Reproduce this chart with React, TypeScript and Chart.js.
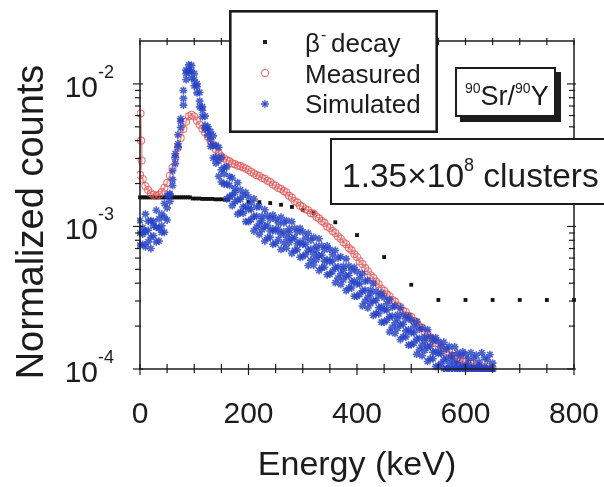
import React, { useEffect, useRef } from "react";
import { Chart, registerables } from "chart.js";

Chart.register(...registerables);

// All series values are in units of 1e-3 normalized counts
const UNIT = 1e-3;

const energyBins = [
  0, 5, 10, 15, 20, 25, 30, 35, 40, 45,
  50, 55, 60, 65, 70, 75, 80, 85, 90, 95,
  100, 105, 110, 115, 120, 125, 130, 135, 140, 145,
  150, 155, 160, 165, 170, 175, 180, 185, 190, 195,
  200, 205, 210, 215, 220, 225, 230, 235, 240, 245,
  250, 255, 260, 265, 270, 275, 280, 285, 290, 295,
  300, 305, 310, 315, 320, 325, 330, 335, 340, 345,
  350, 355, 360, 365, 370, 375, 380, 385, 390, 395,
  400, 405, 410, 415, 420, 425, 430, 435, 440, 445,
  450, 455, 460, 465, 470, 475, 480, 485, 490, 495,
  500, 505, 510, 515, 520, 525, 530, 535, 540, 545,
  550, 555, 560, 565, 570, 575, 580, 585, 590, 595,
  600, 605, 610, 615, 620, 625, 630, 635, 640, 645,
  650,
];

const measured = [
  2.3, 2.15, 1.92, 1.8, 1.71, 1.67, 1.64, 1.67, 1.74, 1.87,
  2.02, 2.27, 2.58, 3.02, 3.56, 4.18, 4.82, 5.43, 5.92, 6.08,
  5.91, 5.52, 5.17, 4.84, 4.56, 4.26, 4.0, 3.71, 3.46, 3.26,
  3.1, 3.01, 2.91, 2.86, 2.77, 2.73, 2.67, 2.65, 2.59, 2.55,
  2.49, 2.41, 2.35, 2.29, 2.26, 2.19, 2.16, 2.09, 2.05, 1.97,
  1.93, 1.86, 1.83, 1.77, 1.73, 1.64, 1.59, 1.51, 1.47, 1.4,
  1.37, 1.32, 1.3, 1.24, 1.23, 1.17, 1.14, 1.09, 1.06, 1.0,
  0.975, 0.93, 0.9, 0.85, 0.82, 0.775, 0.75, 0.705, 0.68, 0.64,
  0.61, 0.57, 0.545, 0.51, 0.485, 0.455, 0.437, 0.41, 0.393, 0.366,
  0.354, 0.334, 0.324, 0.305, 0.297, 0.279, 0.272, 0.256, 0.251, 0.236,
  0.232, 0.218, 0.214, 0.199, 0.195, 0.181, 0.177, 0.164, 0.161, 0.152,
  0.151, 0.142, 0.141, 0.132, 0.131, 0.124, 0.124, 0.118, 0.118, 0.113,
  0.113, 0.108, 0.109, 0.104, 0.106, 0.102, 0.104, 0.101, 0.103, 0.1005,
  0.101,
];

const measuredEarlyE = [1, 2, 3];
const measuredEarly = [6.2, 4.0, 2.9];

const simCenter = [
  0.9, 0.884, 0.92, 0.94, 0.84, 1.01, 0.99, 0.97, 1.01, 1.16,
  1.35, 1.66, 2.13, 3.06, 3.8, 5.46, 7.92, 11.8, 12.5, 12.3,
  10.7, 9.57, 7.57, 6.53, 5.13, 4.83, 4.06, 3.71, 3.07, 2.88,
  2.5, 2.34, 1.99, 1.94, 1.66, 1.73, 1.54, 1.55, 1.37, 1.38,
  1.32, 1.32, 1.18, 1.18, 1.05, 1.1, 1.0, 1.02, 0.93, 0.96,
  0.93, 0.957, 0.883, 0.918, 0.836, 0.903, 0.822, 0.834, 0.758, 0.778,
  0.75, 0.749, 0.679, 0.694, 0.637, 0.683, 0.624, 0.628, 0.571, 0.586,
  0.565, 0.572, 0.514, 0.52, 0.466, 0.494, 0.45, 0.453, 0.408, 0.414,
  0.395, 0.395, 0.354, 0.357, 0.318, 0.336, 0.302, 0.301, 0.269, 0.273,
  0.26, 0.26, 0.233, 0.235, 0.211, 0.225, 0.205, 0.206, 0.185, 0.188,
  0.18, 0.18, 0.162, 0.164, 0.147, 0.158, 0.144, 0.144, 0.131, 0.133,
  0.128, 0.129, 0.116, 0.119, 0.109, 0.118, 0.109, 0.111, 0.102, 0.106,
  0.104, 0.107, 0.099, 0.103, 0.1, 0.105, 0.1, 0.103, 0.1, 0.101,
  0.1,
];

const simUpper = [
  1.1, 0.978, 1.22, 1.09, 1.1, 1.08, 1.3, 1.13, 1.22, 1.45,
  1.65, 1.7, 2.46, 3.24, 4.4, 5.7, 9.0, 12.5, 13.6, 13.5,
  11.8, 10.0, 8.7, 6.9, 5.94, 5.0, 4.63, 4.32, 3.71, 3.59,
  3.05, 2.59, 2.62, 2.24, 2.19, 1.85, 2.03, 1.8, 1.66, 1.73,
  1.61, 1.46, 1.56, 1.37, 1.38, 1.18, 1.31, 1.19, 1.13, 1.2,
  1.13, 1.06, 1.16, 1.06, 1.1, 0.963, 1.08, 0.972, 0.916, 0.97,
  0.915, 0.828, 0.896, 0.802, 0.838, 0.728, 0.819, 0.732, 0.69, 0.731,
  0.689, 0.633, 0.678, 0.602, 0.613, 0.526, 0.592, 0.528, 0.493, 0.517,
  0.482, 0.437, 0.467, 0.413, 0.419, 0.358, 0.397, 0.35, 0.325, 0.34,
  0.317, 0.288, 0.307, 0.271, 0.278, 0.24, 0.269, 0.24, 0.224, 0.234,
  0.22, 0.199, 0.214, 0.19, 0.194, 0.168, 0.189, 0.168, 0.158, 0.166,
  0.156, 0.143, 0.154, 0.138, 0.144, 0.125, 0.143, 0.13, 0.124, 0.132,
  0.127, 0.118, 0.13, 0.119, 0.125, 0.112, 0.13, 0.12, 0.116, 0.126,
  0.11,
];

const simLower = [
  0.74, 0.748, 0.72, 0.78, 0.7, 0.86, 0.78, 0.79, 0.91, 0.91,
  1.11, 1.5, 1.94, 2.76, 3.6, 4.94, 7.1, 10.7, 12.2, 11.0,
  9.7, 8.65, 6.9, 5.9, 4.86, 4.37, 3.65, 3.02, 2.78, 2.25,
  2.05, 1.98, 1.56, 1.62, 1.4, 1.49, 1.22, 1.26, 1.24, 1.08,
  1.08, 1.12, 0.93, 0.99, 0.88, 0.95, 0.79, 0.83, 0.84, 0.75,
  0.76, 0.81, 0.69, 0.765, 0.704, 0.774, 0.647, 0.68, 0.687, 0.608,
  0.615, 0.634, 0.532, 0.578, 0.536, 0.585, 0.491, 0.512, 0.518, 0.458,
  0.463, 0.484, 0.403, 0.434, 0.392, 0.423, 0.355, 0.37, 0.37, 0.324,
  0.324, 0.334, 0.277, 0.298, 0.268, 0.288, 0.238, 0.245, 0.244, 0.213,
  0.213, 0.22, 0.182, 0.196, 0.178, 0.193, 0.161, 0.168, 0.168, 0.147,
  0.148, 0.152, 0.127, 0.137, 0.124, 0.135, 0.113, 0.118, 0.118, 0.104,
  0.105, 0.109, 0.101, 0.1, 0.1, 0.101, 0.1, 0.1, 0.1, 0.1,
  0.1, 0.1, 0.1, 0.1, 0.1, 0.1, 0.099, 0.098, 0.097, 0.096,
  0.095,
];

const betaE = [
  0, 4, 8, 12, 16, 20, 24, 28, 32, 36, 40, 44, 48, 52, 56, 60, 64, 68, 72, 76, 80, 84, 88, 92,
  97, 103, 109, 115, 121, 127, 133, 139, 145, 151, 157, 163,
  200, 220, 240, 260, 280, 300, 320, 360, 400, 450, 500, 550, 600, 650, 700, 750, 800,
];
const beta = [
  1.6, 1.6, 1.6, 1.6, 1.6, 1.6, 1.6, 1.6, 1.6, 1.6, 1.6, 1.6, 1.6, 1.6, 1.6, 1.6, 1.6, 1.6, 1.6, 1.6, 1.6, 1.6, 1.6, 1.6,
  1.57, 1.57, 1.57, 1.56, 1.56, 1.56, 1.56, 1.55, 1.55, 1.55, 1.54, 1.54,
  1.49, 1.48, 1.46, 1.42, 1.37, 1.31, 1.24, 1.07, 0.87, 0.61, 0.39, 0.305, 0.305, 0.305, 0.305, 0.305, 0.305,
];

const xTickValues = [0, 200, 400, 600, 800];
const xTickLabels = ["0", "200", "400", "600", "800"];
const xMinorTicks = [0, 50, 100, 150, 200, 250, 300, 350, 400, 450, 500, 550, 600, 650, 700, 750, 800];
const yDecades = [1e-4, 1e-3, 1e-2];
const yDecadeExponents = ["-4", "-3", "-2"];
const yMinorFactors = [2, 3, 4, 5, 6, 7, 8, 9];

const FONT = '"Liberation Sans", Arial, Helvetica, sans-serif';
const INK = "#1c1c1c";
const RED = "rgba(225, 85, 85, 0.8)";
const RED_LINE = "rgba(232, 120, 120, 0.7)";
const BLUE = "rgba(38, 66, 196, 0.82)";

const toPoints = (xs: number[], ys: number[]) => xs.map((x, i) => ({ x, y: ys[i] * UNIT }));

function runs(ctx: CanvasRenderingContext2D, x: number, base: number, parts: [string, number, number][]) {
  for (const [t, size, dy] of parts) {
    ctx.font = `${size}px ${FONT}`;
    ctx.fillText(t, x, base + dy);
    x += ctx.measureText(t).width;
  }
  return x;
}

function line(ctx: CanvasRenderingContext2D, x1: number, y1: number, x2: number, y2: number) {
  ctx.beginPath();
  ctx.moveTo(x1, y1);
  ctx.lineTo(x2, y2);
  ctx.stroke();
}

const decor = {
  id: "decor",
  afterDraw(chart: any) {
    const { ctx, chartArea: a, scales } = chart;
    const xs = scales.x;
    const ys = scales.y;
    ctx.save();
    ctx.strokeStyle = INK;
    ctx.fillStyle = INK;
    ctx.lineWidth = 1.5;
    ctx.strokeRect(a.left, a.top, a.right - a.left, a.bottom - a.top);

    // x ticks
    ctx.lineWidth = 1.2;
    for (const v of xMinorTicks) {
      const px = xs.getPixelForValue(v);
      const major = xTickValues.includes(v);
      line(ctx, px, a.bottom - 5, px, a.bottom + (major ? 6 : 4));
      line(ctx, px, a.top - 3, px, a.top + 4);
    }
    // y ticks
    for (const d of yDecades) {
      const py = ys.getPixelForValue(d);
      line(ctx, a.left - 7, py, a.left + 3, py);
      line(ctx, a.right - 7, py, a.right + 2, py);
      for (const m of yMinorFactors) {
        const v = m * d;
        if (v >= ys.max) break;
        const q = ys.getPixelForValue(v);
        line(ctx, a.left - 5, q, a.left + 1, q);
        line(ctx, a.right - 5, q, a.right + 1, q);
      }
    }

    // x tick labels
    ctx.textAlign = "center";
    ctx.textBaseline = "alphabetic";
    ctx.font = `30px ${FONT}`;
    xTickValues.forEach((v, i) => {
      ctx.fillText(xTickLabels[i], xs.getPixelForValue(v), 423);
    });

    // y tick labels
    ctx.textAlign = "left";
    yDecades.forEach((d, i) => {
      const py = ys.getPixelForValue(d);
      ctx.font = `30px ${FONT}`;
      const w = ctx.measureText("10").width;
      runs(ctx, 98 - w, py + 13, [["10", 30, 0], [yDecadeExponents[i], 18, -19]]);
    });

    // axis titles
    ctx.textAlign = "center";
    ctx.font = `34px ${FONT}`;
    ctx.fillText("Energy (keV)", 357, 475);
    ctx.save();
    ctx.translate(43, 222);
    ctx.rotate(-Math.PI / 2);
    ctx.font = `38px ${FONT}`;
    ctx.fillText("Normalized counts", 0, 0);
    ctx.restore();

    // legend box
    ctx.fillStyle = "#fff";
    ctx.fillRect(229, 10, 209, 123);
    ctx.lineWidth = 2.6;
    ctx.strokeStyle = INK;
    ctx.strokeRect(230.3, 11.3, 206.4, 120.4);
    ctx.fillStyle = INK;
    ctx.textAlign = "left";
    ctx.fillRect(263, 40, 4, 4);
    ctx.strokeStyle = RED;
    ctx.lineWidth = 1.1;
    ctx.beginPath();
    ctx.arc(265, 73, 3.6, 0, Math.PI * 2);
    ctx.stroke();
    ctx.strokeStyle = BLUE;
    ctx.lineWidth = 1.5;
    for (let k = 0; k < 4; k++) {
      const ang = (k * Math.PI) / 4;
      const dx = Math.cos(ang) * 3.8;
      const dy = Math.sin(ang) * 3.8;
      line(ctx, 265 - dx, 104 - dy, 265 + dx, 104 + dy);
    }
    ctx.fillStyle = INK;
    const bx = runs(ctx, 305, 52, [["\u03B2", 26, 0]]);
    runs(ctx, bx + 1, 52, [["-", 16, -12]]);
    runs(ctx, 331, 52, [["decay", 26, 0]]);
    runs(ctx, 305, 83, [["Measured", 26, 0]]);
    runs(ctx, 305, 113, [["Simulated", 26, 0]]);

    // 90Sr/90Y box with shadow
    ctx.fillStyle = INK;
    ctx.fillRect(460, 72, 101, 50);
    ctx.fillStyle = "#fff";
    ctx.fillRect(455, 67, 101, 50);
    ctx.lineWidth = 2;
    ctx.strokeStyle = INK;
    ctx.strokeRect(456, 68, 99, 48);
    ctx.fillStyle = INK;
    runs(ctx, 465, 105, [["90", 14, -12], ["Sr/", 27, 0], ["90", 14, -12], ["Y", 27, 0]]);

    // clusters box
    ctx.fillStyle = "#fff";
    ctx.fillRect(330, 138, 290, 67);
    ctx.lineWidth = 2;
    ctx.strokeRect(331, 139, 300, 65);
    ctx.fillStyle = INK;
    runs(ctx, 342, 187, [["1.35\u00D710", 33.5, 0], ["8", 18, -16], [" clusters", 33.5, 0]]);

    ctx.restore();
  },
};

export default function App() {
  const ref = useRef<HTMLCanvasElement>(null);
  useEffect(() => {
    const canvas = ref.current!;
    const simData = toPoints(energyBins, simLower)
      .concat(toPoints(energyBins, simUpper))
      .concat(toPoints(energyBins, simCenter));
    const measData = toPoints(measuredEarlyE, measuredEarly).concat(toPoints(energyBins, measured));
    const chart = new Chart(canvas, {
      type: "scatter",
      data: {
        datasets: [
          {
            label: "Simulated",
            data: simData,
            pointStyle: "star",
            pointRadius: 3.9,
            borderColor: BLUE,
            backgroundColor: BLUE,
            borderWidth: 1.6,
            clip: 3,
          },
          {
            label: "Measured",
            data: measData,
            showLine: true,
            borderColor: RED_LINE,
            borderWidth: 2,
            pointStyle: "circle",
            pointRadius: 3.5,
            pointBorderColor: RED,
            pointBorderWidth: 1.1,
            pointBackgroundColor: "rgba(255,255,255,0)",
            clip: 3,
          },
          {
            label: "\u03B2- decay",
            data: toPoints(betaE, beta),
            pointStyle: "rect",
            pointRadius: 2.7,
            borderWidth: 0,
            borderColor: "#111",
            backgroundColor: "#111",
            clip: 3,
          },
        ],
      },
      options: {
        responsive: false,
        animation: false,
        devicePixelRatio: 1,
        events: [],
        layout: { padding: { left: 140, right: 30, top: 41, bottom: 118 } },
        scales: {
          x: { type: "linear", min: 0, max: 800, display: false },
          y: { type: "logarithmic", min: 1e-4, max: 2e-2, display: false },
        },
        plugins: {
          legend: { display: false },
          tooltip: { enabled: false },
        },
      },
      plugins: [decor],
    } as any);
    return () => chart.destroy();
  }, []);
  return (
    <div style={{ position: "fixed", left: 0, top: 0, width: 604, height: 487, background: "#fff" }}>
      <canvas ref={ref} width={604} height={487} style={{ display: "block", width: 604, height: 487 }} />
    </div>
  );
}
